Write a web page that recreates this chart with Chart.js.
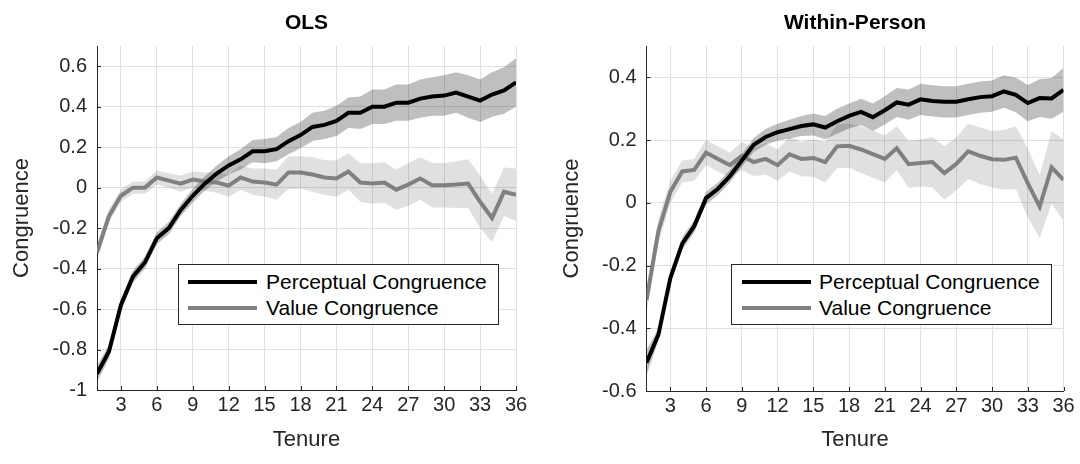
<!DOCTYPE html>
<html>
<head>
<meta charset="utf-8">
<script src="https://cdn.jsdelivr.net/npm/chart.js@4/dist/chart.umd.min.js"></script>
<style>
  body { margin: 0; background: #fff; font-family: "Liberation Sans", Arial, sans-serif; }
  #wrap { position: relative; width: 1080px; height: 464px; overflow: hidden; }
  canvas { position: absolute; top: 0; }
  .ptitle { position: absolute; top: 9px; height: 26px; line-height: 26px; text-align: center; font-weight: bold; font-size: 21px; color: #000; }
  .legend { position: absolute; top: 264px; width: 321px; height: 61px; box-sizing: border-box; border: 1px solid #262626; background: #fff; }
  .lline { position: absolute; height: 4px; }
  .ltext { position: absolute; font-size: 21px; line-height: 24px; color: #000; white-space: nowrap; }
</style>
</head>
<body>
<div id="wrap">
  <canvas id="olsChart" width="540" height="464" style="left:0"></canvas>
  <canvas id="wpChart" width="540" height="464" style="left:540px"></canvas>

  <div class="ptitle" style="left:97px;width:419px">OLS</div>
  <div class="ptitle" style="left:646px;width:418px">Within-Person</div>

  <div class="legend" style="left:178px">
    <div class="lline" style="left:9px;width:69px;top:15px;background:#000"></div>
    <div class="ltext" style="left:87px;top:5px">Perceptual Congruence</div>
    <div class="lline" style="left:9px;width:69px;top:41px;background:#808080"></div>
    <div class="ltext" style="left:87px;top:31px">Value Congruence</div>
  </div>
  <div class="legend" style="left:731px">
    <div class="lline" style="left:10px;width:69px;top:15px;background:#000"></div>
    <div class="ltext" style="left:87px;top:5px">Perceptual Congruence</div>
    <div class="lline" style="left:10px;width:69px;top:41px;background:#808080"></div>
    <div class="ltext" style="left:87px;top:31px">Value Congruence</div>
  </div>
</div>

<script>
// tenure (months)
const tenure = [1,2,3,4,5,6,7,8,9,10,11,12,13,14,15,16,17,18,19,20,21,22,23,24,25,26,27,28,29,30,31,32,33,34,35,36];
const xTicks = [3,6,9,12,15,18,21,24,27,30,33,36];
const olsYTicks = [-1,-0.8,-0.6,-0.4,-0.2,0,0.2,0.4,0.6];
const wpYTicks = [-0.6,-0.4,-0.2,0,0.2,0.4];

// OLS
const olsPerceptual = [-0.92,-0.81,-0.58,-0.44,-0.37,-0.25,-0.20,-0.11,-0.04,0.02,0.07,0.11,0.14,0.18,0.18,0.19,0.23,0.26,0.30,0.31,0.33,0.37,0.37,0.40,0.40,0.42,0.42,0.44,0.45,0.455,0.47,0.45,0.43,0.46,0.48,0.52];
const olsPerceptualLow = [-0.96,-0.845,-0.61,-0.47,-0.40,-0.28,-0.23,-0.14,-0.075,-0.015,0.03,0.065,0.09,0.125,0.12,0.13,0.165,0.195,0.23,0.24,0.255,0.295,0.29,0.315,0.315,0.33,0.33,0.345,0.355,0.355,0.37,0.345,0.325,0.35,0.365,0.40];
const olsPerceptualHigh = [-0.88,-0.775,-0.55,-0.41,-0.34,-0.22,-0.17,-0.08,-0.005,0.055,0.11,0.155,0.19,0.235,0.24,0.25,0.295,0.325,0.37,0.38,0.405,0.445,0.45,0.485,0.485,0.51,0.51,0.535,0.545,0.555,0.57,0.555,0.535,0.57,0.595,0.64];
const olsValue = [-0.32,-0.14,-0.04,0.00,0.00,0.05,0.035,0.02,0.04,0.03,0.025,0.01,0.05,0.03,0.025,0.015,0.075,0.075,0.065,0.05,0.045,0.08,0.025,0.02,0.025,-0.01,0.015,0.045,0.012,0.012,0.015,0.02,-0.07,-0.15,-0.02,-0.035];
const olsValueLow = [-0.36,-0.175,-0.07,-0.03,-0.03,0.015,0.0,-0.02,0.0,-0.015,-0.025,-0.045,-0.01,-0.035,-0.045,-0.06,-0.005,-0.005,-0.02,-0.035,-0.045,-0.01,-0.07,-0.08,-0.075,-0.11,-0.09,-0.06,-0.098,-0.098,-0.10,-0.10,-0.20,-0.27,-0.14,-0.165];
const olsValueHigh = [-0.28,-0.105,-0.01,0.03,0.03,0.085,0.07,0.06,0.08,0.075,0.075,0.065,0.11,0.095,0.095,0.09,0.155,0.155,0.15,0.135,0.135,0.17,0.12,0.12,0.125,0.09,0.12,0.15,0.122,0.122,0.13,0.14,0.06,-0.03,0.10,0.095];

// Within-Person
const wpPerceptual = [-0.51,-0.42,-0.24,-0.13,-0.075,0.015,0.045,0.085,0.135,0.185,0.21,0.225,0.235,0.245,0.25,0.24,0.26,0.277,0.29,0.273,0.295,0.32,0.313,0.33,0.325,0.322,0.322,0.33,0.337,0.34,0.355,0.344,0.318,0.334,0.333,0.36];
const wpPerceptualLow = [-0.55,-0.44,-0.26,-0.15,-0.095,-0.005,0.025,0.065,0.115,0.163,0.185,0.198,0.205,0.213,0.215,0.203,0.22,0.237,0.248,0.229,0.25,0.274,0.265,0.28,0.275,0.272,0.272,0.28,0.287,0.29,0.303,0.289,0.26,0.274,0.268,0.29];
const wpPerceptualHigh = [-0.47,-0.40,-0.22,-0.11,-0.055,0.035,0.065,0.105,0.155,0.207,0.235,0.252,0.265,0.277,0.285,0.277,0.30,0.317,0.332,0.317,0.34,0.366,0.361,0.38,0.375,0.372,0.372,0.38,0.387,0.39,0.407,0.399,0.376,0.394,0.398,0.43];
const wpValue = [-0.31,-0.09,0.035,0.10,0.105,0.16,0.14,0.12,0.15,0.13,0.14,0.12,0.155,0.14,0.143,0.13,0.18,0.182,0.17,0.155,0.14,0.174,0.123,0.127,0.13,0.095,0.124,0.164,0.15,0.139,0.137,0.144,0.063,-0.012,0.113,0.073];
const wpValueLow = [-0.35,-0.13,0.0,0.065,0.07,0.12,0.10,0.08,0.105,0.085,0.09,0.07,0.10,0.085,0.083,0.065,0.11,0.112,0.095,0.08,0.065,0.104,0.048,0.052,0.05,0.01,0.039,0.076,0.06,0.049,0.042,0.044,-0.047,-0.112,-0.002,-0.057];
const wpValueHigh = [-0.27,-0.05,0.07,0.135,0.14,0.20,0.18,0.16,0.195,0.175,0.19,0.17,0.21,0.195,0.203,0.195,0.25,0.252,0.245,0.23,0.215,0.244,0.198,0.202,0.21,0.18,0.209,0.252,0.24,0.229,0.232,0.244,0.173,0.088,0.228,0.203];

const FONT = '"Liberation Sans", Arial, sans-serif';
const AXIS = '#262626';

// small inward tick marks like the original
const innerTicks = {
    id: 'innerTicks',
    afterDatasetsDraw(chart) {
        const { ctx, chartArea, scales } = chart;
        ctx.save();
        ctx.strokeStyle = AXIS;
        ctx.lineWidth = 1;
        scales.x.ticks.forEach(t => {
            const px = Math.round(scales.x.getPixelForValue(t.value)) + 0.5;
            ctx.beginPath();
            ctx.moveTo(px, chartArea.bottom);
            ctx.lineTo(px, chartArea.bottom - 4);
            ctx.stroke();
        });
        scales.y.ticks.forEach(t => {
            const py = Math.round(scales.y.getPixelForValue(t.value)) + 0.5;
            ctx.beginPath();
            ctx.moveTo(chartArea.left, py);
            ctx.lineTo(chartArea.left + 4, py);
            ctx.stroke();
        });
        ctx.restore();
    }
};

function makePanel(id, p) {
    const ctx = document.getElementById(id).getContext('2d');
    new Chart(ctx, {
        type: 'line',
        data: {
            labels: tenure,
            datasets: [
                { data: p.valHigh, borderWidth: 0, pointRadius: 0, backgroundColor: 'rgba(0,0,0,0.12)', fill: 1, order: 4 },
                { data: p.valLow, borderWidth: 0, pointRadius: 0, fill: false, order: 4 },
                { data: p.percHigh, borderWidth: 0, pointRadius: 0, backgroundColor: 'rgba(0,0,0,0.25)', fill: 3, order: 3 },
                { data: p.percLow, borderWidth: 0, pointRadius: 0, fill: false, order: 3 },
                { data: p.val, borderColor: '#808080', borderWidth: 4, pointRadius: 0, fill: false, order: 1 },
                { data: p.perc, borderColor: '#000000', borderWidth: 4, pointRadius: 0, fill: false, order: 0 }
            ]
        },
        options: {
            responsive: false,
            animation: false,
            layout: { padding: { top: 46, right: p.padRight, bottom: 0, left: 0 } },
            plugins: { legend: { display: false }, tooltip: { enabled: false } },
            scales: {
                x: {
                    type: 'linear',
                    min: 1, max: 36,
                    afterBuildTicks: s => { s.ticks = xTicks.map(v => ({ value: v })); },
                    afterFit: s => { s.height = p.xHeight; },
                    grid: { color: '#e0e0e0', drawTicks: false },
                    border: { color: AXIS, width: 1 },
                    ticks: { color: AXIS, padding: 3, font: { family: FONT, size: 20 }, callback: v => String(v) },
                    title: { display: true, text: 'Tenure', color: AXIS, font: { family: FONT, size: 22 }, padding: { top: 0, bottom: 10.8 } }
                },
                y: {
                    min: p.yMin, max: p.yMax,
                    afterBuildTicks: s => { s.ticks = p.yTicks.map(v => ({ value: v })); },
                    afterFit: s => { s.width = p.yWidth; },
                    grid: { color: '#e0e0e0', drawTicks: false },
                    border: { color: AXIS, width: 1 },
                    ticks: { color: AXIS, padding: 10, font: { family: FONT, size: 20 }, callback: v => String(Math.round(v * 10) / 10) },
                    title: { display: true, text: 'Congruence', color: AXIS, font: { family: FONT, size: 22 }, padding: { top: p.yTitlePad, bottom: 0 } }
                }
            }
        },
        plugins: [innerTicks]
    });
}

makePanel('olsChart', {
    perc: olsPerceptual, percLow: olsPerceptualLow, percHigh: olsPerceptualHigh,
    val: olsValue, valLow: olsValueLow, valHigh: olsValueHigh,
    yMin: -1, yMax: 0.7, yTicks: olsYTicks,
    yWidth: 97, xHeight: 74, padRight: 24, yTitlePad: 8.8
});

makePanel('wpChart', {
    perc: wpPerceptual, percLow: wpPerceptualLow, percHigh: wpPerceptualHigh,
    val: wpValue, valLow: wpValueLow, valHigh: wpValueHigh,
    yMin: -0.6, yMax: 0.5, yTicks: wpYTicks,
    yWidth: 106.5, xHeight: 73, padRight: 16.5, yTitlePad: 18.8
});
</script>
</body>
</html>
